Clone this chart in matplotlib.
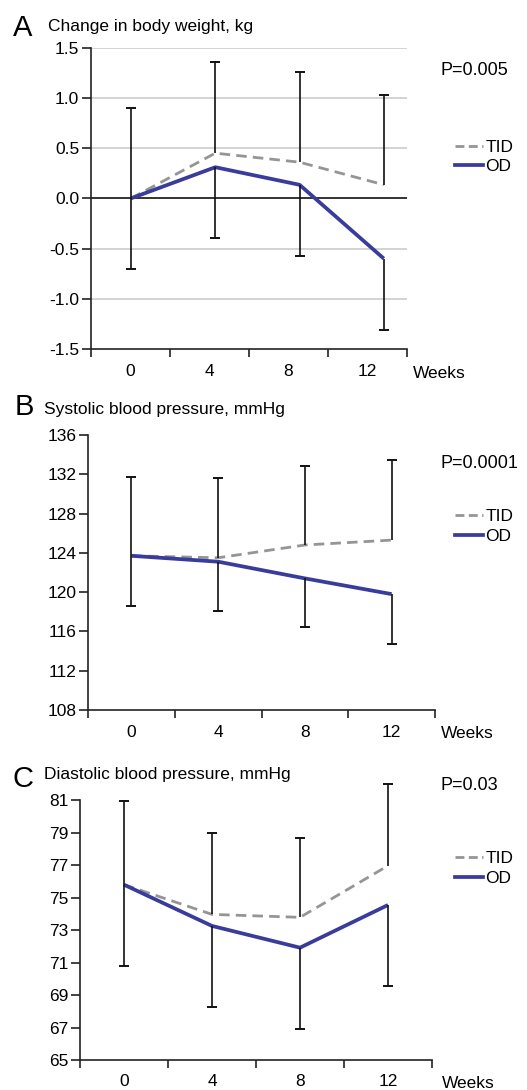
import matplotlib
matplotlib.use("Agg")
import matplotlib.pyplot as plt
from matplotlib.lines import Line2D
import numpy as np

plt.rcParams['font.family'] = ['Liberation Sans', 'DejaVu Sans']

# ---------------- data ----------------
weeks = [0, 4, 8, 12]
week_labels = ["0", "4", "8", "12"]

# A: change in body weight, kg
tid_wt = [0.0, 0.45, 0.36, 0.135]
od_wt = [0.0, 0.31, 0.135, -0.60]
tid_wt_sd = [0.90, 0.905, 0.90, 0.895]
od_wt_sd = [0.70, 0.70, 0.71, 0.71]

# B: systolic blood pressure, mmHg
tid_sbp = [123.7, 123.5, 124.8, 125.3]
od_sbp = [123.7, 123.1, 121.4, 119.8]
tid_sbp_sd = [8.0, 8.1, 8.0, 8.2]
od_sbp_sd = [5.1, 5.0, 5.0, 5.1]

# C: diastolic blood pressure, mmHg
tid_dbp = [75.8, 73.97, 73.79, 76.97]
od_dbp = [75.8, 73.26, 71.92, 74.55]
tid_dbp_sd = [5.16, 5.02, 4.91, 5.01]
od_dbp_sd = [4.99, 4.98, 5.01, 4.99]

series_labels = ["TID", "OD"]
p_values = ["P=0.005", "P=0.0001", "P=0.03"]
panel_letters = ["A", "B", "C"]
panel_titles = ["Change in body weight, kg",
                "Systolic blood pressure, mmHg",
                "Diastolic blood pressure, mmHg"]
xlabel = "Weeks"

OD_COLOR = "#3a3c9c"
TID_COLOR = "#959595"

W, H = 527, 1090
fig = plt.figure(figsize=(W / 100, H / 100), dpi=100)


def px_axes(x0, x1, ytop, ybot):
    return fig.add_axes([x0 / W, 1 - ybot / H, (x1 - x0) / W, (ybot - ytop) / H])


def ftext(x, y, s, **kw):
    fig.text(x / W, 1 - y / H, s, **kw)


def panel(ax, tid, od, tid_sd, od_sd, xlim, ylim, yticks, yfmt, grid, lab_pad):
    ax.set_xlim(*xlim)
    ax.set_ylim(*ylim)
    for s in ("top", "right"):
        ax.spines[s].set_visible(False)
    for s in ("left", "bottom"):
        ax.spines[s].set_linewidth(1.2)
        ax.spines[s].set_color("#222222")
    if grid:
        for yv in yticks:
            if yv == 0:
                ax.axhline(yv, color="#111111", lw=1.2, zorder=1)
            elif yv != ylim[0]:
                ax.axhline(yv, color="#c8c8c8", lw=1.1, zorder=0)
    # category boundaries as tick marks, labels at centres
    bounds = np.linspace(xlim[0], xlim[1], 5)
    centres = (bounds[:-1] + bounds[1:]) / 2
    ax.set_xticks(bounds)
    ax.set_xticklabels([])
    ax.set_xticks(centres, minor=True)
    ax.set_xticklabels(week_labels, minor=True)
    ax.tick_params(axis="x", which="major", direction="out", length=5.5, width=1.2, color="#222222")
    ax.tick_params(axis="x", which="minor", length=0, pad=lab_pad, labelsize=12.5)
    ax.set_yticks(yticks)
    ax.set_yticklabels([yfmt.format(v) for v in yticks])
    ax.tick_params(axis="y", direction="out", length=6.5, width=1.2, pad=2, labelsize=12.5, color="#222222")

    x = np.array(weeks, dtype=float)
    tid = np.array(tid); od = np.array(od)
    ax.plot(x, tid, color=TID_COLOR, lw=2.0, dashes=(3.8, 2.2), zorder=3, solid_capstyle="butt")
    ax.plot(x, od, color=OD_COLOR, lw=2.7, zorder=4, solid_capstyle="butt")
    # error bars: TID upward, OD downward
    up = tid + np.array(tid_sd)
    lo = od - np.array(od_sd)
    ax.vlines(x, tid, up, color="#111111", lw=1.2, zorder=5, clip_on=False)
    ax.vlines(x, lo, od, color="#111111", lw=1.2, zorder=5, clip_on=False)
    ax.plot(x, up, ls="none", marker="_", ms=7.5, mew=1.4, color="#111111", zorder=5, clip_on=False)
    ax.plot(x, lo, ls="none", marker="_", ms=7.5, mew=1.4, color="#111111", zorder=5, clip_on=False)


def legend(ytid, yod):
    handles = [Line2D([0], [0], color=TID_COLOR, lw=2.0, dashes=(3.2, 1.6)),
               Line2D([0], [0], color=OD_COLOR, lw=2.7)]
    fig.legend(handles, series_labels, loc="center left",
               bbox_to_anchor=(455 / W, 1 - (ytid + yod) / 2 / H),
               frameon=False, fontsize=12.5, handlelength=1.6, handletextpad=0.15,
               labelspacing=0.25, borderpad=0, borderaxespad=0)


# Panel A
axA = px_axes(91, 407, 47.7, 349)
panel(axA, tid_wt, od_wt, tid_wt_sd, od_wt_sd, (-1.9, 13.1), (-1.5, 1.5),
      [-1.5, -1.0, -0.5, 0.0, 0.5, 1.0, 1.5], "{:.1f}", True, 11)
ftext(13, 36, panel_letters[0], fontsize=21, va="baseline")
ftext(48, 31, panel_titles[0], fontsize=12.5, va="baseline")
ftext(440, 70, p_values[0], fontsize=13, va="center")
ftext(413, 373, xlabel, fontsize=12.5, va="center")
legend(145.7, 168.3)

# Panel B
axB = px_axes(88, 435, 435, 710)
panel(axB, tid_sbp, od_sbp, tid_sbp_sd, od_sbp_sd, (-2, 14), (108, 136),
      list(range(108, 137, 4)), "{:d}", False, 11)
ftext(15, 415, panel_letters[1], fontsize=21, va="baseline")
ftext(44, 414, panel_titles[1], fontsize=12.5, va="baseline")
ftext(440, 463, p_values[1], fontsize=13, va="center")
ftext(441, 734, xlabel, fontsize=12.5, va="center")
legend(515, 538)

# Panel C
axC = px_axes(80, 432, 800.3, 1060)
panel(axC, tid_dbp, od_dbp, tid_dbp_sd, od_dbp_sd, (-2, 14), (65, 81),
      list(range(65, 82, 2)), "{:d}", False, 10)
ftext(13, 787, panel_letters[2], fontsize=21, va="baseline")
ftext(44, 779, panel_titles[2], fontsize=12.5, va="baseline")
ftext(440, 785, p_values[2], fontsize=13, va="center")
ftext(442, 1083, xlabel, fontsize=12.5, va="center")
legend(856.7, 880)

fig.savefig("out.png", dpi=100)
